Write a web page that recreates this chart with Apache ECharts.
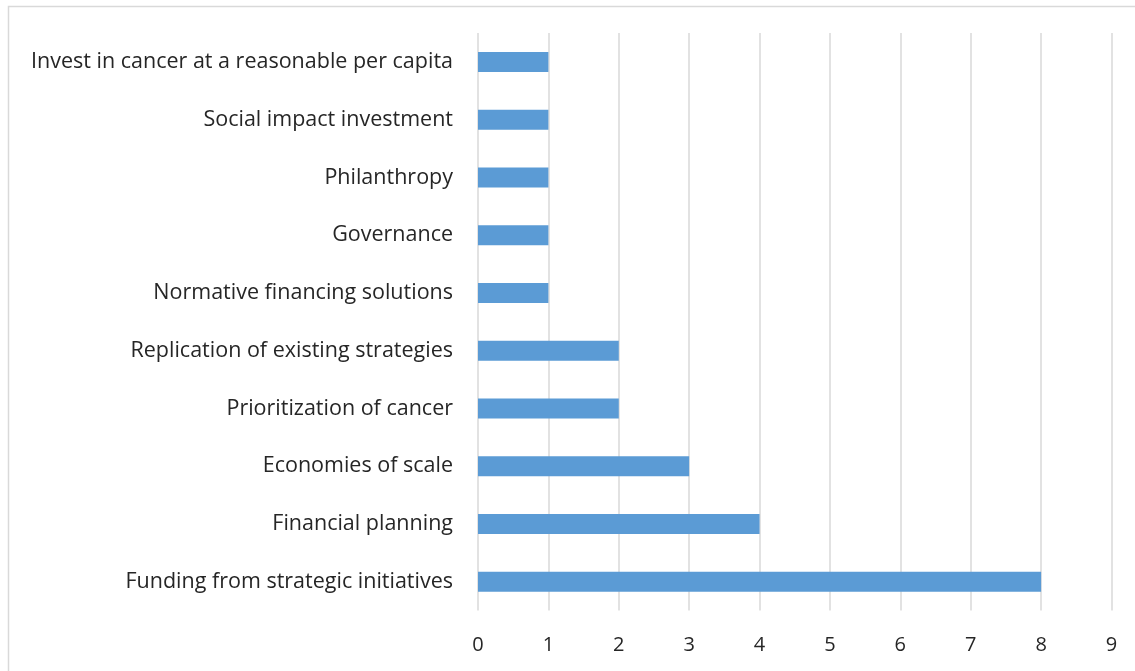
<!DOCTYPE html>
<html>
<head>
<meta charset="utf-8">
<script src="https://cdn.jsdelivr.net/npm/echarts@6/dist/echarts.min.js"></script>
<style>
html,body{margin:0;padding:0;background:#fff;}
#chart{width:1135px;height:671px;}
</style>
</head>
<body>
<div id="chart"></div>
<script>
const categories = [
  "Invest in cancer at a reasonable per capita",
  "Social impact investment",
  "Philanthropy",
  "Governance",
  "Normative financing solutions",
  "Replication of existing strategies",
  "Prioritization of cancer",
  "Economies of scale",
  "Financial planning",
  "Funding from strategic initiatives"
];
const values = [1, 1, 1, 1, 1, 2, 2, 3, 4, 8];
const xTicks = [0, 1, 2, 3, 4, 5, 6, 7, 8, 9];

const chart = echarts.init(document.getElementById('chart'), null, {renderer: 'canvas'});
const font = '"Open Sans", sans-serif';
chart.setOption({
  animation: false,
  backgroundColor: '#ffffff',
  graphic: [{
    type: 'rect',
    shape: {x: 8.5, y: 6.5, width: 1200, height: 800},
    style: {fill: 'none', stroke: '#d9d9d9', lineWidth: 1.5},
    silent: true
  }],
  grid: {left: 478, right: 23.5, top: 33, bottom: 60.5, containLabel: false},
  xAxis: {
    type: 'value',
    min: xTicks[0],
    max: xTicks[xTicks.length - 1],
    interval: 1,
    axisLine: {show: false},
    axisTick: {show: false},
    splitLine: {show: true, lineStyle: {color: '#d9d9d9', width: 1.5}},
    axisLabel: {color: '#262626', fontSize: 20, fontFamily: font, margin: 25}
  },
  yAxis: {
    type: 'category',
    inverse: true,
    data: categories,
    axisLine: {show: false},
    axisTick: {show: false},
    splitLine: {show: false},
    axisLabel: {color: '#262626', fontSize: 21.5, fontFamily: font, margin: 25}
  },
  series: [{
    type: 'bar',
    data: values,
    barWidth: 20,
    itemStyle: {color: '#5b9bd5'}
  }]
});
</script>
</body>
</html>
